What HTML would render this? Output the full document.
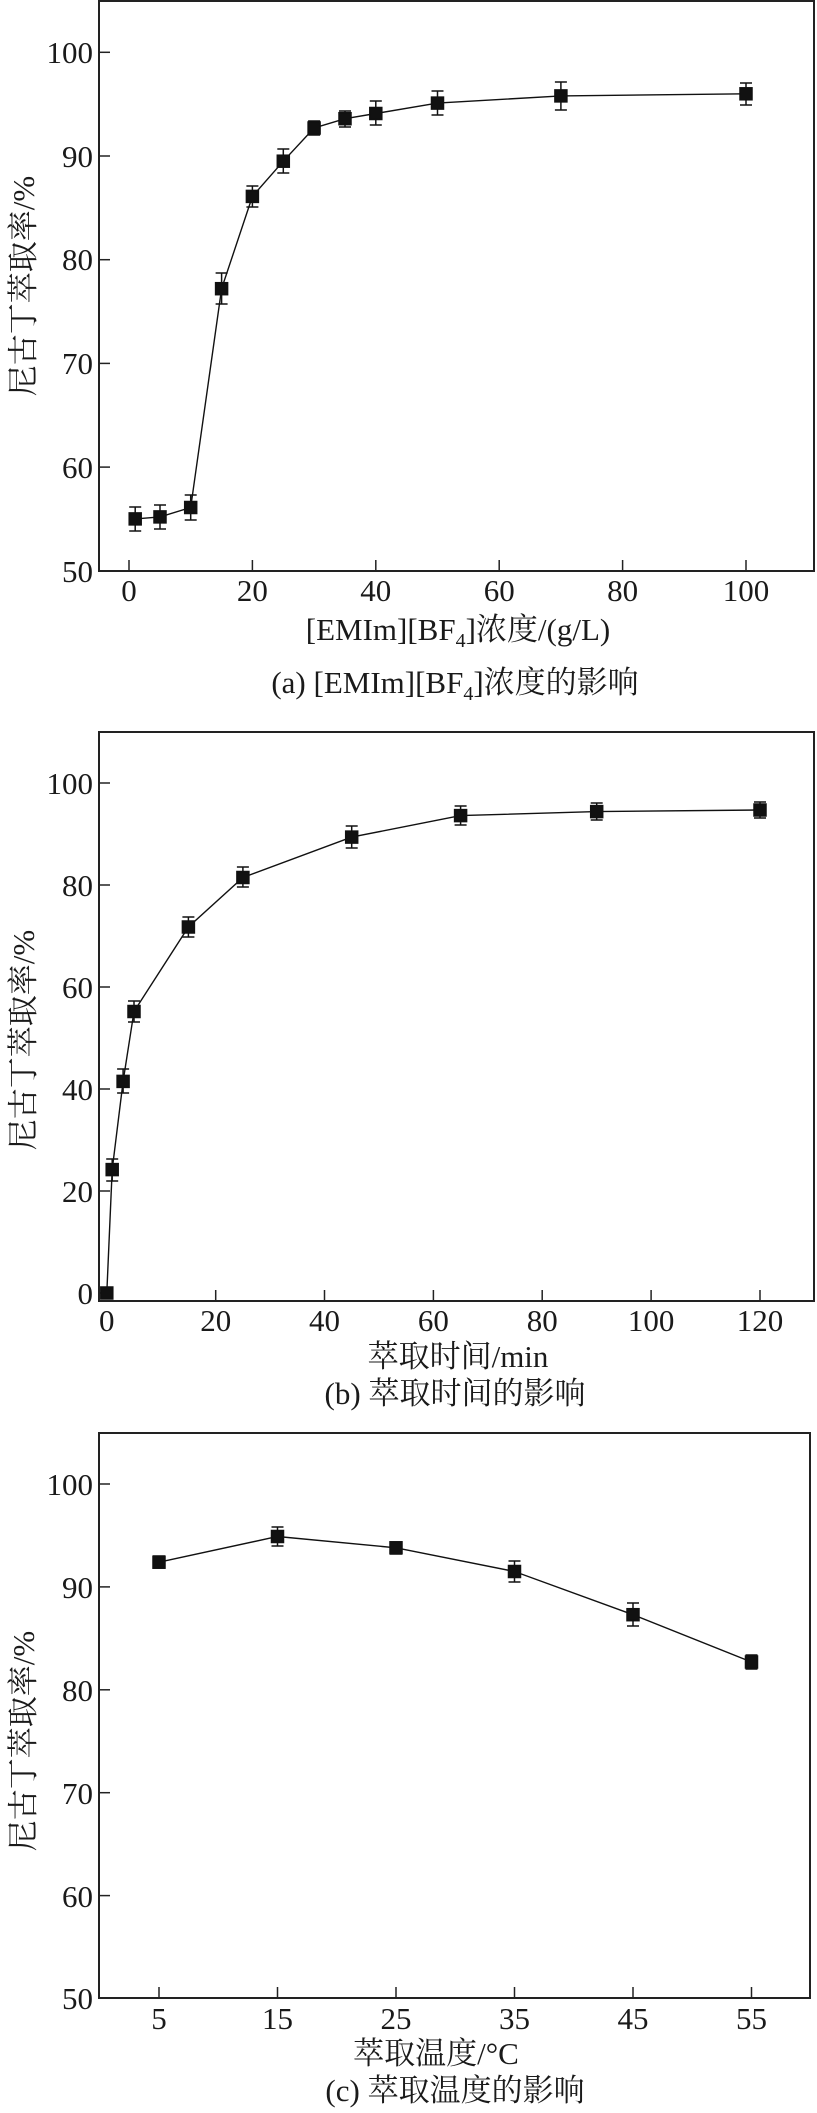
<!DOCTYPE html>
<html><head><meta charset="utf-8"><style>
html,body{margin:0;padding:0;background:#fff;}
svg{display:block;}
text{font-family:"Liberation Serif","Noto Serif CJK SC",serif;fill:#1a1a1a;}
</style></head><body>
<svg width="817" height="2113" viewBox="0 0 817 2113" xmlns="http://www.w3.org/2000/svg">
<g stroke="#222" fill="none">
<rect x="99" y="1" width="715" height="570" stroke-width="2"/>
<rect x="99" y="732" width="715" height="569" stroke-width="2"/>
<rect x="99" y="1433" width="711" height="565" stroke-width="2"/>
</g>
<g stroke="#222" stroke-width="1.5">
<line x1="99" y1="52.3" x2="110" y2="52.3"/><line x1="99" y1="156" x2="110" y2="156"/>
<line x1="99" y1="259.7" x2="110" y2="259.7"/><line x1="99" y1="363.4" x2="110" y2="363.4"/>
<line x1="99" y1="467.1" x2="110" y2="467.1"/>
<line x1="129" y1="571" x2="129" y2="560"/><line x1="252.4" y1="571" x2="252.4" y2="560"/>
<line x1="375.8" y1="571" x2="375.8" y2="560"/><line x1="499.2" y1="571" x2="499.2" y2="560"/>
<line x1="622.6" y1="571" x2="622.6" y2="560"/><line x1="746" y1="571" x2="746" y2="560"/>
<line x1="99" y1="783" x2="110" y2="783"/><line x1="99" y1="885" x2="110" y2="885"/>
<line x1="99" y1="987" x2="110" y2="987"/><line x1="99" y1="1089" x2="110" y2="1089"/>
<line x1="99" y1="1191" x2="110" y2="1191"/><line x1="99" y1="1293" x2="110" y2="1293"/>
<line x1="215.7" y1="1301" x2="215.7" y2="1290"/><line x1="324.5" y1="1301" x2="324.5" y2="1290"/>
<line x1="433.4" y1="1301" x2="433.4" y2="1290"/><line x1="542.2" y1="1301" x2="542.2" y2="1290"/>
<line x1="651.1" y1="1301" x2="651.1" y2="1290"/><line x1="760" y1="1301" x2="760" y2="1290"/>
<line x1="99" y1="1484" x2="110" y2="1484"/><line x1="99" y1="1586.9" x2="110" y2="1586.9"/>
<line x1="99" y1="1689.8" x2="110" y2="1689.8"/><line x1="99" y1="1792.7" x2="110" y2="1792.7"/>
<line x1="99" y1="1895.6" x2="110" y2="1895.6"/>
<line x1="159" y1="1998" x2="159" y2="1987"/><line x1="277.5" y1="1998" x2="277.5" y2="1987"/>
<line x1="396" y1="1998" x2="396" y2="1987"/><line x1="514.5" y1="1998" x2="514.5" y2="1987"/>
<line x1="633" y1="1998" x2="633" y2="1987"/><line x1="751.5" y1="1998" x2="751.5" y2="1987"/>
</g>

<g font-size="31" text-anchor="end">
<text x="93" y="63">100</text><text x="93" y="167">90</text><text x="93" y="270">80</text>
<text x="93" y="374">70</text><text x="93" y="478">60</text><text x="93" y="582">50</text>
<text x="93" y="794">100</text><text x="93" y="896">80</text><text x="93" y="998">60</text>
<text x="93" y="1100">40</text><text x="93" y="1202">20</text><text x="93" y="1304">0</text>
<text x="93" y="1495">100</text><text x="93" y="1598">90</text><text x="93" y="1701">80</text>
<text x="93" y="1804">70</text><text x="93" y="1907">60</text><text x="93" y="2009">50</text>
</g>
<g font-size="31" text-anchor="middle">
<text x="129" y="601">0</text><text x="252.4" y="601">20</text><text x="375.8" y="601">40</text>
<text x="499.2" y="601">60</text><text x="622.6" y="601">80</text><text x="746" y="601">100</text>
<text x="106.8" y="1331">0</text><text x="215.7" y="1331">20</text><text x="324.5" y="1331">40</text>
<text x="433.4" y="1331">60</text><text x="542.2" y="1331">80</text><text x="651.1" y="1331">100</text><text x="760" y="1331">120</text>
<text x="159" y="2029">5</text><text x="277.5" y="2029">15</text><text x="396" y="2029">25</text>
<text x="514.5" y="2029">35</text><text x="633" y="2029">45</text><text x="751.5" y="2029">55</text>
<text x="458" y="640">[EMIm][BF<tspan font-size="20" dy="7">4</tspan><tspan dy="-7">]浓度/(g/L)</tspan></text>
<text x="455" y="693">(a) [EMIm][BF<tspan font-size="20" dy="7">4</tspan><tspan dy="-7">]浓度的影响</tspan></text>
<text x="458" y="1367">萃取时间/min</text>
<text x="455" y="1404">(b) 萃取时间的影响</text>
<text x="436" y="2064">萃取温度/°C</text>
<text x="455" y="2101">(c) 萃取温度的影响</text>
<text transform="translate(34,286) rotate(-90)">尼古丁萃取率/%</text>
<text transform="translate(34,1040) rotate(-90)">尼古丁萃取率/%</text>
<text transform="translate(34,1741) rotate(-90)">尼古丁萃取率/%</text>
</g>

<g stroke="#111" stroke-width="1.4" fill="none">
<polyline points="135.2,518.9 160,516.9 190.7,507.5 221.6,288.7 252.4,196.4 283.3,161.2 314.1,128 345,118.7 375.8,113.5 437.5,103.1 560.9,95.9 746,93.8"/>
<polyline points="106.8,1293 112.2,1169.6 123.1,1081.4 134,1011.5 188.4,927 242.9,877.5 351.7,837.1 460.6,815.6 596.7,811.6 760,810"/>
<polyline points="159,1562.2 277.5,1536.5 396,1547.8 514.5,1571.5 633,1614.7 751.5,1662"/>
</g>

<g fill="#111" stroke="#111" stroke-width="1.5">
<!-- a -->
<line x1="135.2" y1="507" x2="135.2" y2="531"/><line x1="129.2" y1="507" x2="141.2" y2="507"/><line x1="129.2" y1="531" x2="141.2" y2="531"/><rect x="129.2" y="512.9" width="12" height="12"/>
<line x1="160" y1="505" x2="160" y2="529"/><line x1="154" y1="505" x2="166" y2="505"/><line x1="154" y1="529" x2="166" y2="529"/><rect x="154" y="510.9" width="12" height="12"/>
<line x1="190.7" y1="495" x2="190.7" y2="520"/><line x1="184.7" y1="495" x2="196.7" y2="495"/><line x1="184.7" y1="520" x2="196.7" y2="520"/><rect x="184.7" y="501.5" width="12" height="12"/>
<line x1="221.6" y1="273" x2="221.6" y2="304"/><line x1="215.6" y1="273" x2="227.6" y2="273"/><line x1="215.6" y1="304" x2="227.6" y2="304"/><rect x="215.6" y="282.7" width="12" height="12"/>
<line x1="252.4" y1="186" x2="252.4" y2="207"/><line x1="246.4" y1="186" x2="258.4" y2="186"/><line x1="246.4" y1="207" x2="258.4" y2="207"/><rect x="246.4" y="190.4" width="12" height="12"/>
<line x1="283.3" y1="149" x2="283.3" y2="173"/><line x1="277.3" y1="149" x2="289.3" y2="149"/><line x1="277.3" y1="173" x2="289.3" y2="173"/><rect x="277.3" y="155.2" width="12" height="12"/>
<line x1="314.1" y1="121" x2="314.1" y2="135"/><line x1="308.1" y1="121" x2="320.1" y2="121"/><line x1="308.1" y1="135" x2="320.1" y2="135"/><rect x="308.1" y="122" width="12" height="12"/>
<line x1="345" y1="111" x2="345" y2="127"/><line x1="339" y1="111" x2="351" y2="111"/><line x1="339" y1="127" x2="351" y2="127"/><rect x="339" y="112.7" width="12" height="12"/>
<line x1="375.8" y1="101" x2="375.8" y2="125"/><line x1="369.8" y1="101" x2="381.8" y2="101"/><line x1="369.8" y1="125" x2="381.8" y2="125"/><rect x="369.8" y="107.5" width="12" height="12"/>
<line x1="437.5" y1="91" x2="437.5" y2="115"/><line x1="431.5" y1="91" x2="443.5" y2="91"/><line x1="431.5" y1="115" x2="443.5" y2="115"/><rect x="431.5" y="97.1" width="12" height="12"/>
<line x1="560.9" y1="82" x2="560.9" y2="110"/><line x1="554.9" y1="82" x2="566.9" y2="82"/><line x1="554.9" y1="110" x2="566.9" y2="110"/><rect x="554.9" y="89.9" width="12" height="12"/>
<line x1="746" y1="83" x2="746" y2="105"/><line x1="740" y1="83" x2="752" y2="83"/><line x1="740" y1="105" x2="752" y2="105"/><rect x="740" y="87.8" width="12" height="12"/>
<!-- b -->
<rect x="100.8" y="1287" width="12" height="12"/>
<line x1="112.2" y1="1159" x2="112.2" y2="1181"/><line x1="106.2" y1="1159" x2="118.2" y2="1159"/><line x1="106.2" y1="1181" x2="118.2" y2="1181"/><rect x="106.2" y="1163.6" width="12" height="12"/>
<line x1="123.1" y1="1069" x2="123.1" y2="1093"/><line x1="117.1" y1="1069" x2="129.1" y2="1069"/><line x1="117.1" y1="1093" x2="129.1" y2="1093"/><rect x="117.1" y="1075.4" width="12" height="12"/>
<line x1="134" y1="1001" x2="134" y2="1022"/><line x1="128" y1="1001" x2="140" y2="1001"/><line x1="128" y1="1022" x2="140" y2="1022"/><rect x="128" y="1005.5" width="12" height="12"/>
<line x1="188.4" y1="917" x2="188.4" y2="937"/><line x1="182.4" y1="917" x2="194.4" y2="917"/><line x1="182.4" y1="937" x2="194.4" y2="937"/><rect x="182.4" y="921" width="12" height="12"/>
<line x1="242.9" y1="867" x2="242.9" y2="887"/><line x1="236.9" y1="867" x2="248.9" y2="867"/><line x1="236.9" y1="887" x2="248.9" y2="887"/><rect x="236.9" y="871.5" width="12" height="12"/>
<line x1="351.7" y1="826" x2="351.7" y2="848"/><line x1="345.7" y1="826" x2="357.7" y2="826"/><line x1="345.7" y1="848" x2="357.7" y2="848"/><rect x="345.7" y="831.1" width="12" height="12"/>
<line x1="460.6" y1="806" x2="460.6" y2="825"/><line x1="454.6" y1="806" x2="466.6" y2="806"/><line x1="454.6" y1="825" x2="466.6" y2="825"/><rect x="454.6" y="809.6" width="12" height="12"/>
<line x1="596.7" y1="803" x2="596.7" y2="820"/><line x1="590.7" y1="803" x2="602.7" y2="803"/><line x1="590.7" y1="820" x2="602.7" y2="820"/><rect x="590.7" y="805.6" width="12" height="12"/>
<line x1="760" y1="802" x2="760" y2="818"/><line x1="754" y1="802" x2="766" y2="802"/><line x1="754" y1="818" x2="766" y2="818"/><rect x="754" y="804" width="12" height="12"/>
<!-- c -->
<line x1="159" y1="1556" x2="159" y2="1568"/><line x1="153" y1="1556" x2="165" y2="1556"/><line x1="153" y1="1568" x2="165" y2="1568"/><rect x="153" y="1556.2" width="12" height="12"/>
<line x1="277.5" y1="1527" x2="277.5" y2="1546"/><line x1="271.5" y1="1527" x2="283.5" y2="1527"/><line x1="271.5" y1="1546" x2="283.5" y2="1546"/><rect x="271.5" y="1530.5" width="12" height="12"/>
<line x1="396" y1="1542" x2="396" y2="1554"/><line x1="390" y1="1542" x2="402" y2="1542"/><line x1="390" y1="1554" x2="402" y2="1554"/><rect x="390" y="1541.8" width="12" height="12"/>
<line x1="514.5" y1="1561" x2="514.5" y2="1582"/><line x1="508.5" y1="1561" x2="520.5" y2="1561"/><line x1="508.5" y1="1582" x2="520.5" y2="1582"/><rect x="508.5" y="1565.5" width="12" height="12"/>
<line x1="633" y1="1603" x2="633" y2="1626"/><line x1="627" y1="1603" x2="639" y2="1603"/><line x1="627" y1="1626" x2="639" y2="1626"/><rect x="627" y="1608.7" width="12" height="12"/>
<line x1="751.5" y1="1655" x2="751.5" y2="1669"/><line x1="745.5" y1="1655" x2="757.5" y2="1655"/><line x1="745.5" y1="1669" x2="757.5" y2="1669"/><rect x="745.5" y="1656" width="12" height="12"/>
</g>
</svg>
</body></html>
